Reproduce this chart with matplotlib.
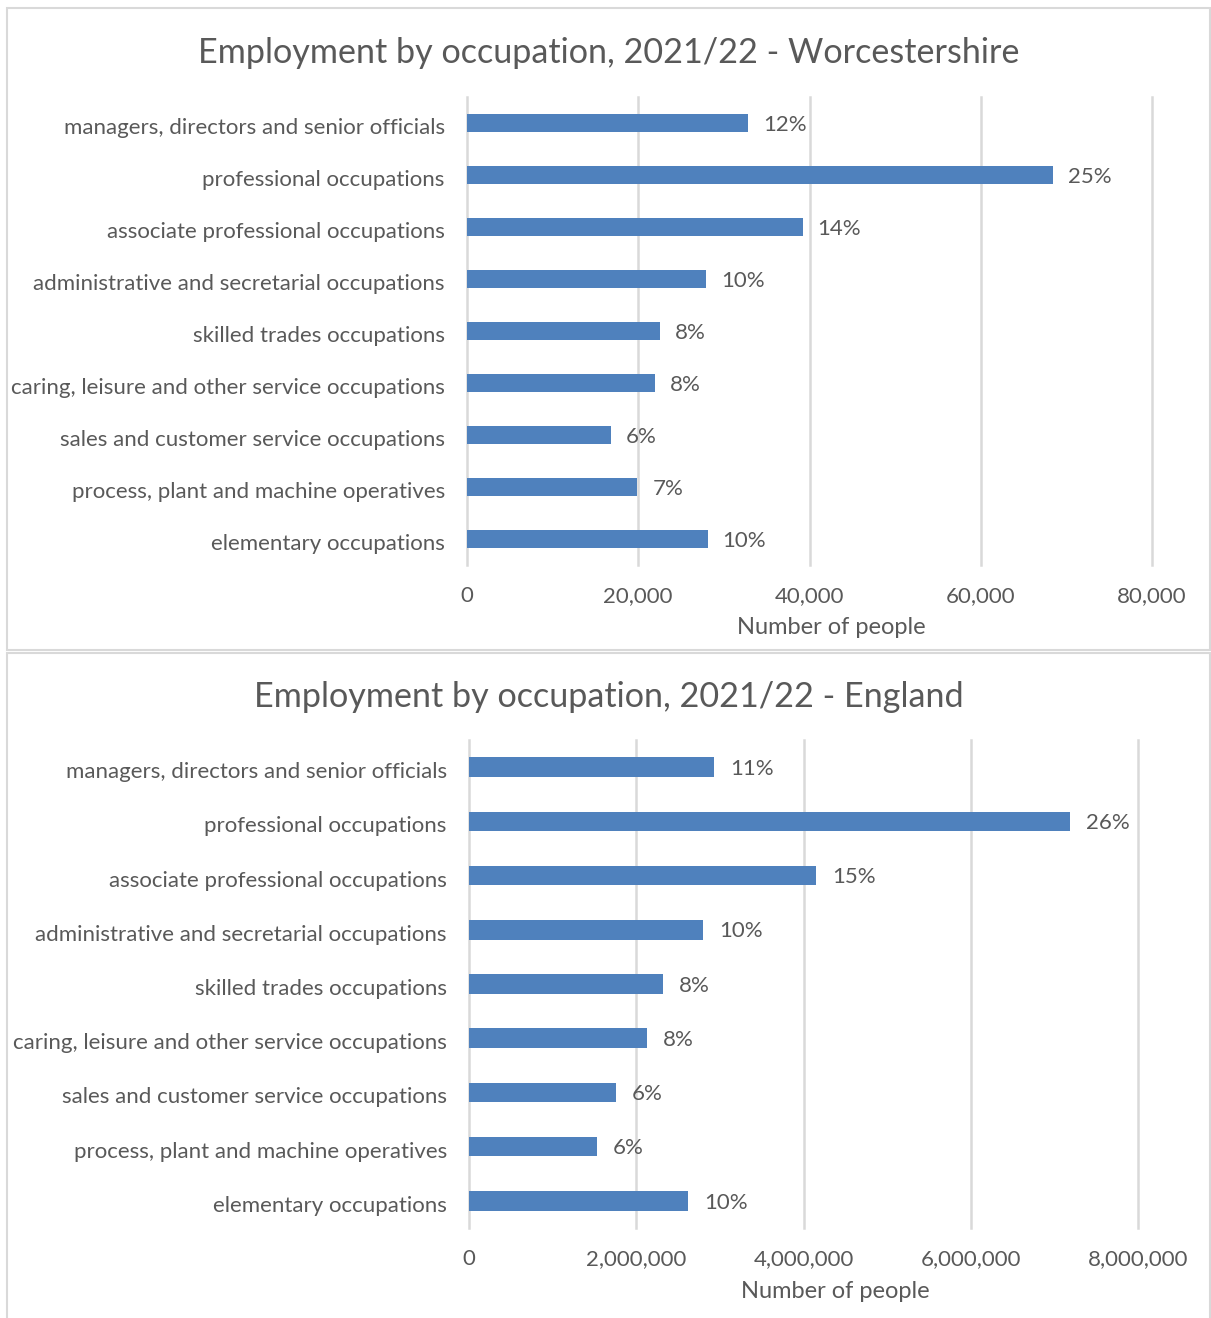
import matplotlib
matplotlib.use("Agg")
import matplotlib.pyplot as plt
import matplotlib.transforms as mtransforms
from matplotlib.patches import Rectangle
from matplotlib.ticker import FuncFormatter

plt.rcParams['font.family'] = ['Lato', 'DejaVu Sans']

occupations = [
    "managers, directors and senior officials",
    "professional occupations",
    "associate professional occupations",
    "administrative and secretarial occupations",
    "skilled trades occupations",
    "caring, leisure and other service occupations",
    "sales and customer service occupations",
    "process, plant and machine operatives",
    "elementary occupations",
]

worcs_people = [32800, 68400, 39200, 27900, 22500, 22000, 16800, 19900, 28100]
worcs_pct = ["12%", "25%", "14%", "10%", "8%", "8%", "6%", "7%", "10%"]

eng_people = [2930000, 7190000, 4150000, 2800000, 2320000, 2130000, 1760000, 1530000, 2620000]
eng_pct = ["11%", "26%", "15%", "10%", "8%", "8%", "6%", "6%", "10%"]

W, H = 1211, 1318
bar_col = "#4f81bd"
txt_col = "#595959"
grid_col = "#d9d9d9"

fig = plt.figure(figsize=(W / 100, H / 100), dpi=100)

# panel borders
fig.patches.append(Rectangle((7 / W, 1 - 650 / H), 1203 / W, 642 / H, transform=fig.transFigure,
                             fill=False, edgecolor=grid_col, lw=1.5))
fig.patches.append(Rectangle((7 / W, -0.01), 1203 / W, 1 - 653 / H + 0.01, transform=fig.transFigure,
                             fill=False, edgecolor=grid_col, lw=1.5))


def draw(rect, values, pcts, xmax, step, title, title_y, xlab_x, xlab_y, off):
    ax = fig.add_axes(rect)
    y = list(range(len(values)))
    ax.barh(y, values, height=0.36, color=bar_col, zorder=3)
    ax.set_ylim(len(values) - 0.5, -0.5)
    ax.set_xlim(0, xmax)
    ax.set_xticks(list(range(0, xmax + 1, step)))
    ax.xaxis.set_major_formatter(FuncFormatter(lambda v, p: f"{int(v):,}"))
    ax.set_yticks(y)
    ax.set_yticklabels(occupations)
    ax.grid(axis="x", color=grid_col, lw=1.8, zorder=0)
    for gl in ax.get_xgridlines():
        gl.set_clip_on(False)
    for s in ax.spines.values():
        s.set_visible(False)
    ax.tick_params(axis="both", length=0, colors=txt_col, labelsize=16)
    ax.tick_params(axis="x", pad=15)
    ax.tick_params(axis="y", pad=16)
    # category labels sit a little below bar centre in the original
    shift = mtransforms.ScaledTranslation(0, -3 / 100, fig.dpi_scale_trans)
    for lab in ax.get_yticklabels():
        lab.set_transform(lab.get_transform() + shift)
    for yi, v, p in zip(y, values, pcts):
        ax.text(v + off, yi + 0.03, p, va="center", ha="left", fontsize=16, color=txt_col)
    fig.text(609 / W, 1 - title_y / H, title, ha="center", va="center", fontsize=24.6, color=txt_col)
    fig.text(xlab_x / W, 1 - xlab_y / H, "Number of people", ha="center", va="center",
             fontsize=17, color=txt_col)
    return ax


draw([467 / W, 1 - 565 / H, (1152 - 467) / W, 468 / H], worcs_people, worcs_pct, 80000, 20000,
     "Employment by occupation, 2021/22 - Worcestershire", 53, 831, 627, 1750)
draw([469 / W, 1 - 1228 / H, (1138 - 469) / W, 488 / H], eng_people, eng_pct, 8000000, 2000000,
     "Employment by occupation, 2021/22 - England", 697, 835, 1292, 190000)

fig.savefig("out.png", dpi=100)
